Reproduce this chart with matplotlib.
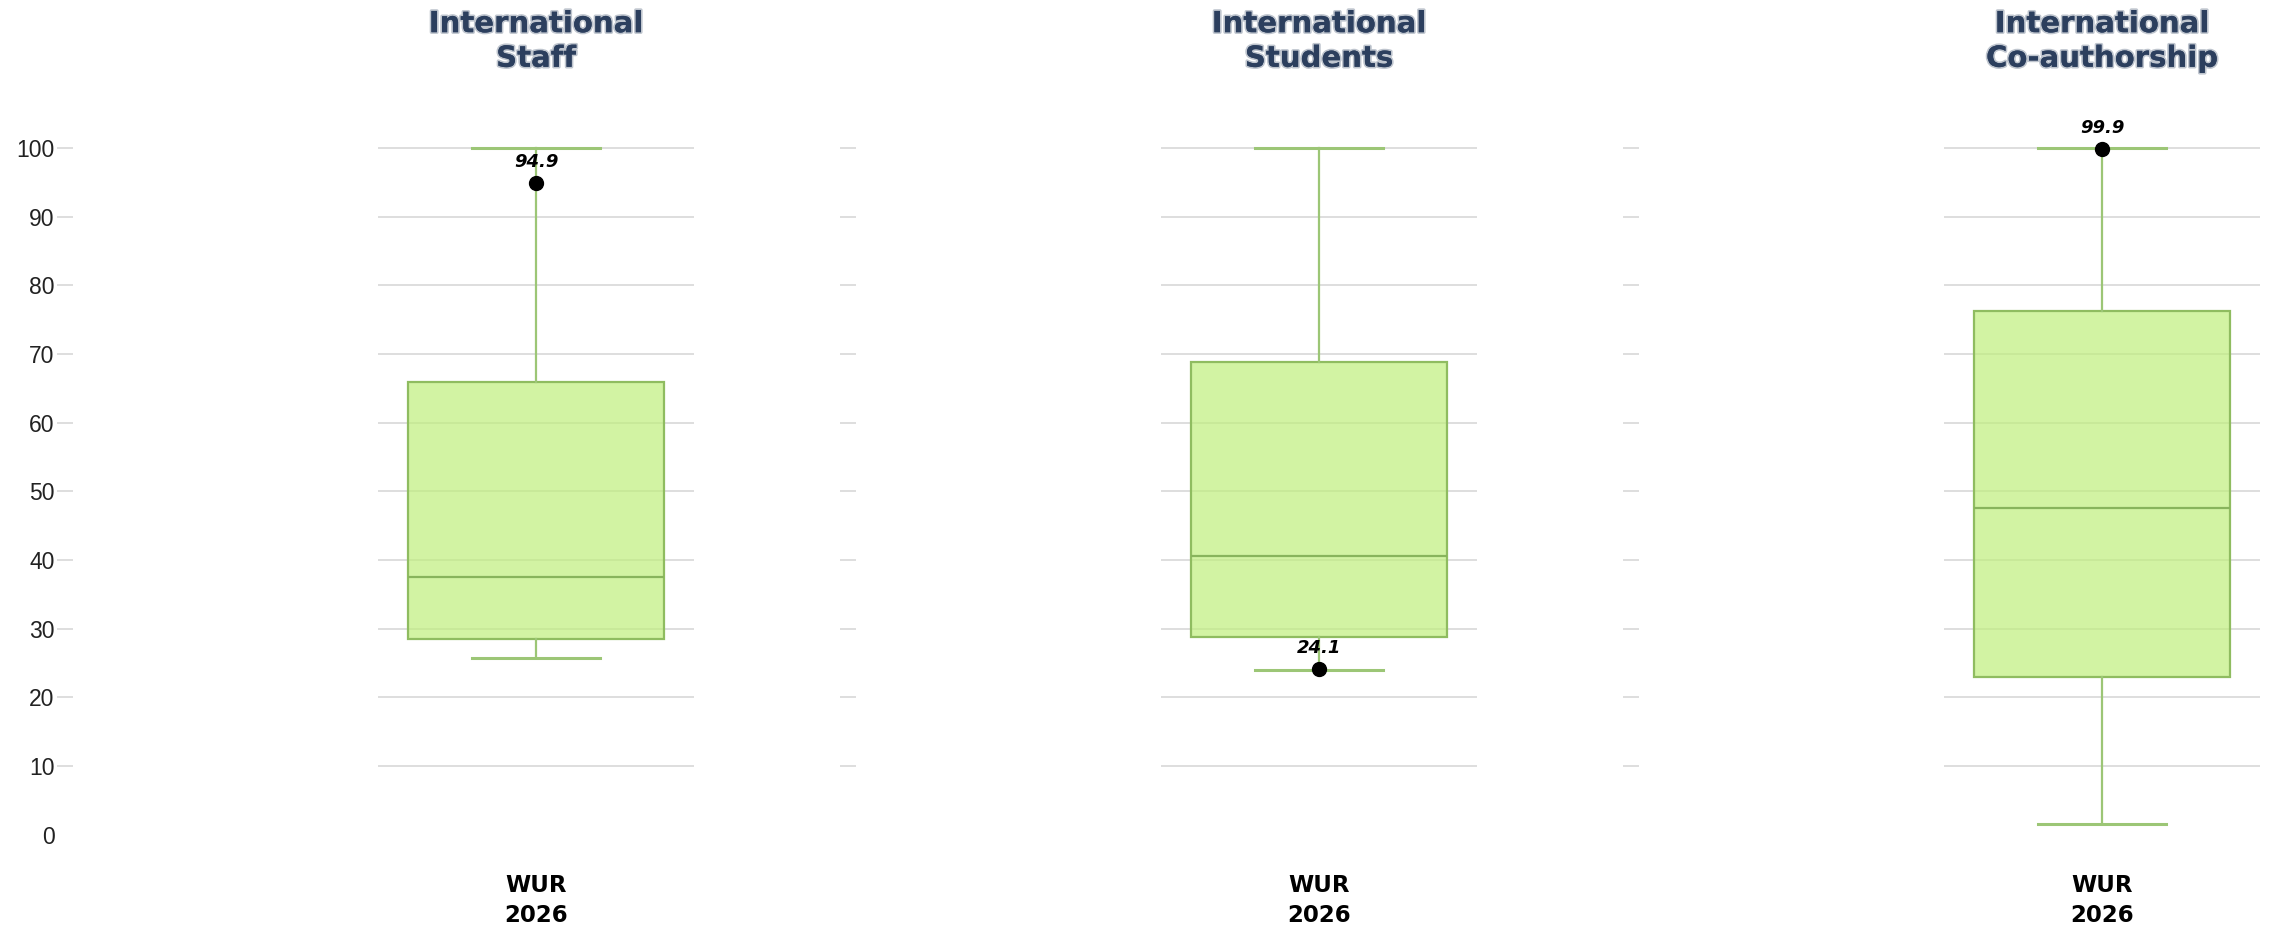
import matplotlib.pyplot as plt
import matplotlib.patheffects as pe
from matplotlib.transforms import blended_transform_factory


categories = ["International\nStaff", "International\nStudents", "International\nCo-authorship"]
edition = "WUR\n2026"
whislo = [25.7, 24.0, 1.5]
q1 = [28.5, 28.8, 23.0]
med = [37.5, 40.6, 47.6]
q3 = [65.9, 68.9, 76.2]
whishi = [100.0, 100.0, 100.0]
highlight = [94.9, 24.1, 99.9]
yticks = [10, 20, 30, 40, 50, 60, 70, 80, 90, 100]

W, H = 2282, 926
GRID = "#dedede"
EDGE = "#8fbc60"
WHISK = "#9cc676"
TITLE = "#2c3f5e"

fig = plt.figure(figsize=(W / 100, H / 100), dpi=100)
fig.patch.set_facecolor("white")

for i, cat in enumerate(categories):
    left = 378 + 783 * i
    ax = fig.add_axes([left / W, 1 - 845 / H, 316 / W, 710 / H])

    stats = [dict(whislo=whislo[i], q1=q1[i], med=med[i], q3=q3[i], whishi=whishi[i], fliers=[])]
    ax.bxp(
        stats, positions=[0], widths=0.81, capwidths=0.405, patch_artist=True,
        boxprops=dict(facecolor=(192 / 255, 239 / 255, 124 / 255, 0.7), edgecolor=EDGE, linewidth=1.6),
        medianprops=dict(color="#88b45c", linewidth=1.6),
        whiskerprops=dict(color=WHISK, linewidth=1.6),
        capprops=dict(color=WHISK, linewidth=2.2),
        zorder=3,
    )
    ax.plot([0], [highlight[i]], "o", color="black", markersize=10, zorder=5, clip_on=False)
    ax.annotate(
        f"{highlight[i]:.1f}", xy=(0, highlight[i]), xytext=(0, 15), textcoords="offset points",
        ha="center", va="center", fontsize=13, fontweight="bold", fontstyle="italic",
        color="black", zorder=6,
    )

    ax.set_xlim(-0.5, 0.5)
    ax.set_ylim(-1.5, 101.9)
    ax.set_yticks(yticks)
    ax.set_yticks([0], labels=["0"], minor=True)
    ax.yaxis.grid(True, which="major", color=GRID, linewidth=1.4, zorder=0)
    ax.set_axisbelow(True)

    for s in ax.spines.values():
        s.set_visible(False)
    ax.spines["left"].set_position(("outward", 219.5))
    ax.tick_params(axis="y", which="major", length=11.5, width=1.4, color=GRID, pad=2,
                   labelsize=16.5, labelcolor="#222222")
    ax.tick_params(axis="y", which="minor", length=0, pad=13.5,
                   labelsize=16.5, labelcolor="#222222")
    for lab in ax.get_yticklabels() + ax.get_yticklabels(minor=True):
        lab.set_fontfamily(["Liberation Sans", "DejaVu Sans"])
    if i > 0:
        ax.tick_params(axis="y", which="both", labelleft=False)

    ax.set_xticks([0])
    ax.set_xticklabels([edition], fontsize=16.5, fontweight="bold", linespacing=1.4)
    ax.tick_params(axis="x", length=0, pad=21)

    tr = blended_transform_factory(ax.transAxes, fig.transFigure)
    ax.text(0.5, 1 - 41.5 / H, cat, transform=tr, ha="center", va="center",
            fontsize=21, fontweight="bold", color=TITLE, linespacing=1.3,
            path_effects=[pe.withStroke(linewidth=2.5, foreground=(0.17, 0.25, 0.37, 0.3))])

fig.savefig("out.png", dpi=100)
